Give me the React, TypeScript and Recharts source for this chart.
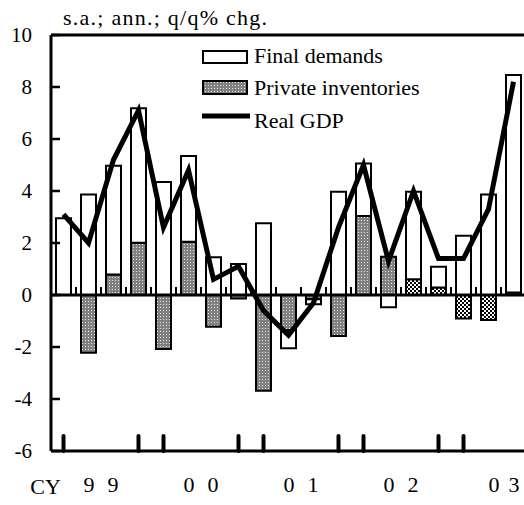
import React from 'react';
import { ComposedChart, Bar, Line, XAxis, YAxis, ReferenceLine, Cell } from 'recharts';

// US real GDP growth contributions, 1999Q1 - 2003Q3 (s.a., annualised q/q % chg.)
const quarters = [
  '1999Q1', '1999Q2', '1999Q3', '1999Q4',
  '2000Q1', '2000Q2', '2000Q3', '2000Q4',
  '2001Q1', '2001Q2', '2001Q3', '2001Q4',
  '2002Q1', '2002Q2', '2002Q3', '2002Q4',
  '2003Q1', '2003Q2', '2003Q3',
];
const finalDemands = [
  2.95, 3.87, 4.18, 5.17, 4.35, 3.3, 1.45, 1.19, 2.76, -0.7,
  -0.2, 3.97, 2.02, -0.47, 3.36, 0.8, 2.28, 3.87, 8.36,
];
const privateInventories = [
  0, -2.22, 0.79, 2.01, -2.08, 2.05, -1.22, -0.13, -3.68, -1.35,
  -0.16, -1.58, 3.04, 1.47, 0.61, 0.29, -0.9, -0.96, 0.1,
];
const realGdp = [
  3.1, 2.0, 5.2, 7.1, 2.6, 4.8, 0.6, 1.1, -0.6, -1.55,
  -0.3, 2.6, 5.0, 1.3, 4.0, 1.4, 1.4, 3.3, 8.2,
];
const yearLabels = ['99', '00', '01', '02', '03'];
const yTicks = [-6, -4, -2, 0, 2, 4, 6, 8, 10];

const data = quarters.map((q, i) => ({
  q,
  fd: finalDemands[i],
  inv: privateInventories[i],
  gdp: realGdp[i],
}));

const FONT = "'Liberation Serif', 'Times New Roman', serif";
const W = 540;
const H = 505;
const Y_AXIS_W = 51;
const PLOT_TOP = 35;
const X_AXIS_H = 54;
const PLOT_BOTTOM = H - X_AXIS_H;
const Y_MIN = -6;
const Y_MAX = 10;
const BAND = 25;
const yPix = (v: number) => PLOT_TOP + ((Y_MAX - v) / (Y_MAX - Y_MIN)) * (PLOT_BOTTOM - PLOT_TOP);

const YTick = (props: any) => {
  const { y, payload } = props;
  return (
    <g>
      <path d={`M${Y_AXIS_W},${y}H${Y_AXIS_W + 9}`} stroke="#000" strokeWidth={2.5} fill="none" />
      <text x={Y_AXIS_W - 19} y={y} dy={7} textAnchor="end" fontFamily={FONT} fontSize={21} fill="#000" stroke="none">
        {payload.value}
      </text>
    </g>
  );
};

const XTick = (props: any) => {
  const { x, index } = props;
  const q = index % 4;
  const yZero = yPix(0);
  const yearIdx = Math.floor(index / 4);
  const label = yearLabels[yearIdx];
  const isLast = yearIdx === yearLabels.length - 1;
  const cx = x + BAND / 2 + (isLast ? 3 : 0);
  const gap = isLast ? 10 : 12;
  return (
    <g>
      <path d={`M${x + BAND / 2},${yZero}V${yZero - 8}`} stroke="#000" strokeWidth={2} fill="none" />
      {(q === 0 || q === 3) && (
        <line x1={x} x2={x} y1={PLOT_BOTTOM} y2={PLOT_BOTTOM - 15} stroke="#000" strokeWidth={4} strokeLinecap="round" />
      )}
      {q === 1 && label && (
        <g fontFamily={FONT} fontSize={22} fill="#000" stroke="none">
          <text x={cx - gap} y={492} textAnchor="middle">{label[0]}</text>
          <text x={cx + gap} y={492} textAnchor="middle">{label[1]}</text>
        </g>
      )}
      {index === 0 && (
        <text x={x - 18} y={494} textAnchor="middle" fontFamily={FONT} fontSize={22} fill="#000" stroke="none">CY</text>
      )}
    </g>
  );
};

export default function App() {
  return (
    <div style={{ position: 'absolute', left: 0, top: 0, width: 524, height: 505, overflow: 'hidden', background: '#fff' }}>
      <ComposedChart
        width={W}
        height={H}
        data={data}
        stackOffset="sign"
        barCategoryGap={0}
        margin={{ top: PLOT_TOP, right: W - 526, bottom: 0, left: 0 }}
      >
        <defs>
          <pattern id="grayDots" width={3} height={3} patternUnits="userSpaceOnUse">
            <rect width={3} height={3} fill="#808080" />
            <rect x={1} y={1} width={1} height={1} fill="#e8e8e8" />
          </pattern>
          <pattern id="checker" width={4} height={4} patternUnits="userSpaceOnUse">
            <rect width={4} height={4} fill="#fff" />
            <rect x={0} y={0} width={2} height={2} fill="#000" />
            <rect x={2} y={2} width={2} height={2} fill="#000" />
          </pattern>
        </defs>
        <XAxis
          dataKey="q"
          height={X_AXIS_H}
          interval={0}
          tickSize={0}
          tickMargin={0}
          tickLine={false}
          axisLine={{ stroke: '#000', strokeWidth: 3 }}
          tick={<XTick />}
        />
        <YAxis
          width={Y_AXIS_W}
          domain={[Y_MIN, Y_MAX]}
          ticks={yTicks}
          interval={0}
          tickSize={0}
          tickMargin={0}
          tickLine={false}
          axisLine={{ stroke: '#000', strokeWidth: 3 }}
          tick={<YTick />}
        />
        <Bar dataKey="inv" stackId="s" barSize={15} stroke="#000" strokeWidth={2} isAnimationActive={false}>
          {data.map((d, i) => (
            <Cell key={d.q} fill={i >= 14 && i <= 17 ? 'url(#checker)' : 'url(#grayDots)'} />
          ))}
        </Bar>
        <Bar dataKey="fd" stackId="s" barSize={15} fill="#fff" stroke="#000" strokeWidth={2} isAnimationActive={false} />
        <ReferenceLine y={0} stroke="#000" strokeWidth={3} />
        <ReferenceLine y={Y_MAX} stroke="#000" strokeWidth={3} />
        <Line
          dataKey="gdp"
          type="linear"
          stroke="#000"
          strokeWidth={5}
          strokeLinejoin="miter"
          dot={false}
          activeDot={false}
          isAnimationActive={false}
        />
      </ComposedChart>
      <svg width={524} height={505} style={{ position: 'absolute', left: 0, top: 0, pointerEvents: 'none' }}>
        <defs>
          <pattern id="grayDotsLegend" width={3} height={3} patternUnits="userSpaceOnUse">
            <rect width={3} height={3} fill="#808080" />
            <rect x={1} y={1} width={1} height={1} fill="#e8e8e8" />
          </pattern>
        </defs>
        <g fontFamily={FONT} fill="#000">
          <text x={63} y={25} fontSize={22} textLength={204} lengthAdjust="spacing">s.a.; ann.; q/q% chg.</text>
          <rect x={203} y={51} width={44} height={12} fill="#fff" stroke="#000" strokeWidth={2} />
          <text x={254} y={63} fontSize={22}>Final demands</text>
          <rect x={203} y={81} width={44} height={13} fill="url(#grayDotsLegend)" stroke="#000" strokeWidth={2} />
          <text x={254} y={95} fontSize={22}>Private inventories</text>
          <line x1={202} x2={250} y1={116} y2={116} stroke="#000" strokeWidth={5} />
          <text x={254} y={128} fontSize={22}>Real GDP</text>
        </g>
      </svg>
    </div>
  );
}
